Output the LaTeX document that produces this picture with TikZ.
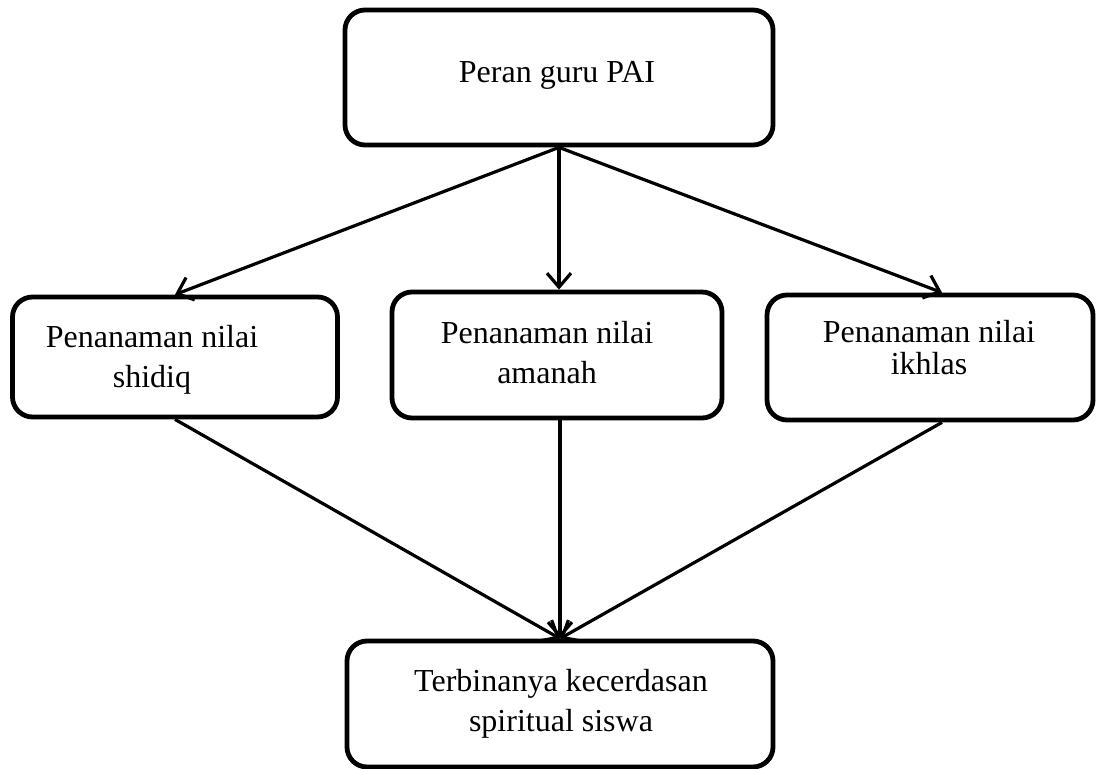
\documentclass[tikz,border=0pt]{standalone}
\usepackage{fontspec}
\setmainfont{Liberation Serif}
\usetikzlibrary{arrows.meta}
\tikzset{
  box/.style={draw, line width=2.4pt, rounded corners=10pt},
  txt/.style={align=center, font=\fontsize{16pt}{20pt}\selectfont},
  conn/.style={line width=1.6pt, -{Straight Barb[length=7pt,width=12pt]}}
}
\begin{document}
\begin{tikzpicture}[x=0.5pt, y=-0.5pt]
            \useasboundingbox (0,0) rectangle (1096,769);
            \node[box, minimum width=214pt, minimum height=67.5pt] (peran) at (559,77.5) {};
            \node[txt] (peran-t) at (557,75) {Peran guru PAI};
            \node[box, minimum width=162.5pt, minimum height=60pt] (shidiq) at (175,357) {};
            \node[txt] (shidiq-t) at (152,360) {Penanaman nilai\\shidiq};
            \node[box, minimum width=165pt, minimum height=63pt] (amanah) at (557,355) {};
            \node[txt] (amanah-t) at (547,353) {Penanaman nilai\\amanah};
            \node[box, minimum width=163pt, minimum height=62.5pt] (ikhlas) at (930,357.5) {};
            \node[txt, font=\fontsize{16pt}{16pt}\selectfont] (ikhlas-t) at (929,348) {Penanaman nilai\\ikhlas};
            \node[box, minimum width=213pt, minimum height=63pt] (hasil) at (560,704) {};
            \node[txt] (hasil-t) at (561,703.5) {Terbinanya kecerdasan\\spiritual siswa};
            \path[conn] (peran.south) edge (shidiq.north)
                (peran.south) edge (peran.south |- amanah.north)
                (peran.south) edge ([xshift=6pt]ikhlas.north)
                (shidiq.south) edge (hasil.north)
                (hasil.north |- amanah.south) edge (hasil.north)
                ([xshift=6pt]ikhlas.south) edge (hasil.north);
\end{tikzpicture}
\end{document}
